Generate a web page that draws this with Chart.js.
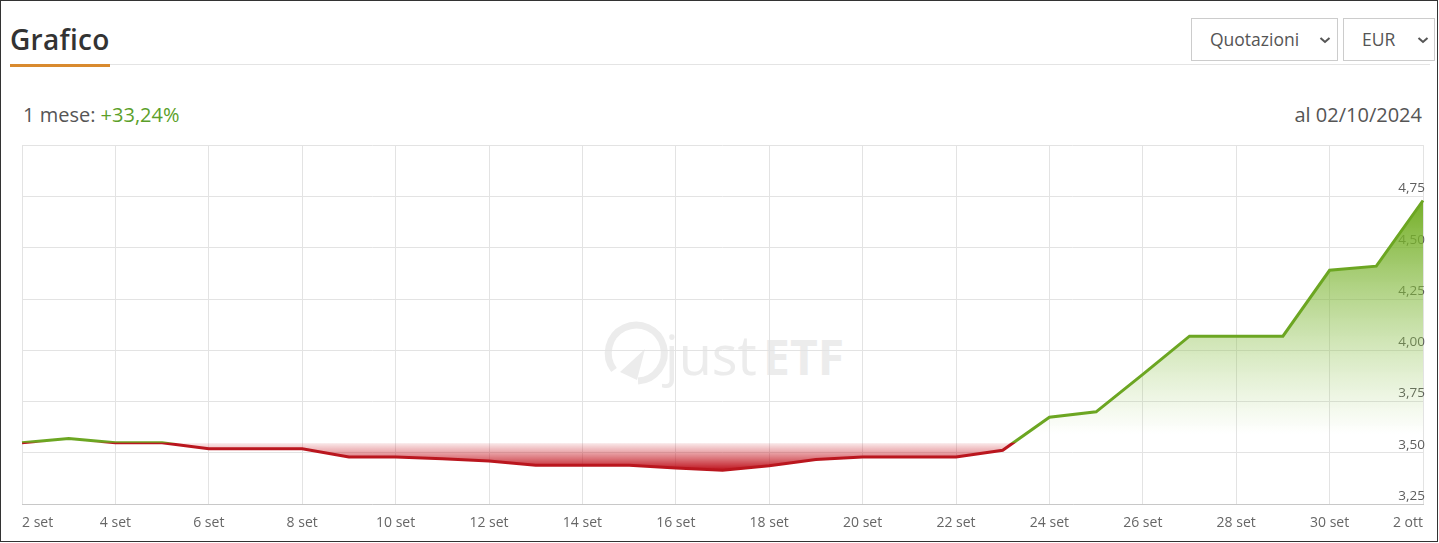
<!DOCTYPE html>
<html>
<head>
<meta charset="utf-8">
<script src="https://cdn.jsdelivr.net/npm/chart.js@4.4.1/dist/chart.umd.min.js"></script>
<style>
  html, body { margin: 0; padding: 0; background: #fff; }
  body { width: 1439px; height: 543px; position: relative; overflow: hidden; font-family: "Open Sans", sans-serif; }
  #frame { position: absolute; left: 0; top: 0; width: 1438px; height: 542px; box-sizing: border-box; border: 1px solid #333; z-index: 5; pointer-events: none; }
  #title { position: absolute; left: 10px; top: 20px; font-size: 28px; font-weight: 600; color: #333; letter-spacing: 0.3px; }
  #rule { position: absolute; left: 10px; top: 64px; width: 1420px; height: 1px; background: #e4e4e4; }
  #underline { position: absolute; left: 10px; top: 64px; width: 100px; height: 3px; background: #d98a2f; }
  .sel { position: absolute; top: 18px; height: 43px; box-sizing: border-box; border: 1px solid #ccc; background: #fff; color: #555; font-size: 17.5px; line-height: 41px; }
  .sel span { position: absolute; left: 18px; }
  .sel svg { position: absolute; top: 16px; }
  #perf { position: absolute; left: 23px; top: 101px; font-size: 20px; color: #555; }
  #perf b { font-weight: 400; color: #5b9f2a; }
  #date { position: absolute; right: 17px; top: 101px; font-size: 20px; color: #555; }
  #wm { position: absolute; left: 600px; top: 318px; width: 260px; height: 70px; }
  #chartbox { position: absolute; left: 0; top: 135px; width: 1439px; height: 410px; }
</style>
</head>
<body>
<div id="frame"></div>
<div id="title">Grafico</div>
<div id="rule"></div>
<div id="underline"></div>
<div class="sel" style="left:1191px;width:147px;"><span>Quotazioni</span>
  <svg width="12" height="10" style="left:127px" viewBox="0 0 12 10"><path d="M1.5 3 L6 7 L10.5 3" fill="none" stroke="#555" stroke-width="2"/></svg></div>
<div class="sel" style="left:1343px;width:92px;"><span>EUR</span>
  <svg width="12" height="10" style="left:73px" viewBox="0 0 12 10"><path d="M1.5 3 L6 7 L10.5 3" fill="none" stroke="#555" stroke-width="2"/></svg></div>
<div id="perf">1 mese: <b>+33,24%</b></div>
<div id="date">al 02/10/2024</div>
<svg id="wm" viewBox="0 0 260 70">
  <path d="M14 52 A28 28 0 1 1 38 63" fill="none" stroke="#ececec" stroke-width="7"/>
  <path d="M20 54 L45 31 L37 62 Z" fill="#ececec"/>
  <text x="65" y="57" font-family="Open Sans" font-size="54" fill="#ececec">just</text>
  <text x="163" y="57" font-family="Open Sans" font-weight="700" font-size="48" fill="#ececec">ETF</text>
</svg>
<div id="chartbox"><canvas id="c"></canvas></div>
<script>
const dayLabels = ['2 set','3 set','4 set','5 set','6 set','7 set','8 set','9 set','10 set','11 set','12 set','13 set','14 set','15 set','16 set','17 set','18 set','19 set','20 set','21 set','22 set','23 set','24 set','25 set','26 set','27 set','28 set','29 set','30 set','1 ott','2 ott'];
const prices = [3.55,3.57,3.55,3.55,3.52,3.52,3.52,3.48,3.48,3.471,3.46,3.44,3.44,3.44,3.427,3.416,3.437,3.468,3.48,3.48,3.48,3.513,3.674,3.70,3.883,4.069,4.069,4.069,4.39,4.41,4.73];
const yTicks = [3.25,3.50,3.75,4.00,4.25,4.50,4.75,5.00];

const baseValue = prices[0];
const GREEN = 'rgb(108,166,34)';
const RED = 'rgb(186,22,30)';

function fillGradient(context) {
  const chart = context.chart;
  const { ctx, chartArea, scales } = chart;
  if (!chartArea || !scales.y) return 'rgba(0,0,0,0)';
  const yMax = scales.y.getPixelForValue(Math.max(...prices));
  const yMin = scales.y.getPixelForValue(Math.min(...prices));
  const yBase = scales.y.getPixelForValue(baseValue);
  const g = ctx.createLinearGradient(0, yMax, 0, yMin);
  const off = Math.min(1, Math.max(0, (yBase - yMax) / (yMin - yMax)));
  g.addColorStop(0, 'rgba(112,172,32,0.97)');
  g.addColorStop(Math.max(0, off - 0.03), 'rgba(150,200,90,0)');
  g.addColorStop(off, 'rgba(205,40,50,0)');
  g.addColorStop(Math.min(1, off + 0.004), 'rgba(205,40,50,0.12)');
  g.addColorStop(1, 'rgba(190,20,30,1)');
  return g;
}
function lineGradient(context) {
  const chart = context.chart;
  const { ctx, chartArea, scales } = chart;
  if (!chartArea || !scales.y) return GREEN;
  const yBase = scales.y.getPixelForValue(baseValue);
  const g = ctx.createLinearGradient(0, chartArea.top, 0, chartArea.bottom);
  const off = Math.min(1, Math.max(0, (yBase - chartArea.top) / (chartArea.bottom - chartArea.top)));
  g.addColorStop(0, GREEN);
  g.addColorStop(Math.max(0, off - 0.001), GREEN);
  g.addColorStop(Math.min(1, off + 0.001), RED);
  g.addColorStop(1, RED);
  return g;
}

new Chart(document.getElementById('c'), {
  type: 'line',
  data: {
    labels: dayLabels,
    datasets: [{
      data: prices,
      borderColor: lineGradient,
      backgroundColor: fillGradient,
      borderWidth: 3,
      pointRadius: 0,
      pointHoverRadius: 0,
      tension: 0,
      fill: { value: baseValue }
    }]
  },
  options: {
    responsive: true,
    maintainAspectRatio: false,
    animation: false,
    events: [],
    layout: { padding: { left: 22, right: 12, top: 5, bottom: 4 } },
    plugins: { legend: { display: false }, tooltip: { enabled: false } },
    scales: {
      x: {
        type: 'category',
        offset: false,
        grid: {
          drawTicks: false,
          color: (ctx) => (ctx.index % 2 === 0 ? '#e3e3e3' : 'rgba(0,0,0,0)')
        },
        border: { display: true, color: '#c8c8c8', width: 1 },
        ticks: {
          autoSkip: false,
          maxRotation: 0,
          align: 'inner',
          padding: 10,
          color: '#666',
          font: { family: 'Open Sans', size: 14 },
          callback: function (value, index) { return index % 2 === 0 ? dayLabels[index] : ''; }
        }
      },
      y: {
        position: 'right',
        min: yTicks[0],
        max: yTicks[yTicks.length - 1],
        afterBuildTicks: (scale) => { scale.ticks = yTicks.map(v => ({ value: v })); },
        grid: { drawTicks: false, color: '#e3e3e3' },
        border: { display: false },
        ticks: {
          mirror: true,
          padding: 2,
          labelOffset: -8,
          color: '#5e5e5e',
          font: { family: 'Open Sans', size: 13.5 },
          callback: (v) => (v >= 5 ? '' : v.toFixed(2).replace('.', ','))
        }
      }
    }
  }
});
</script>
</body>
</html>
